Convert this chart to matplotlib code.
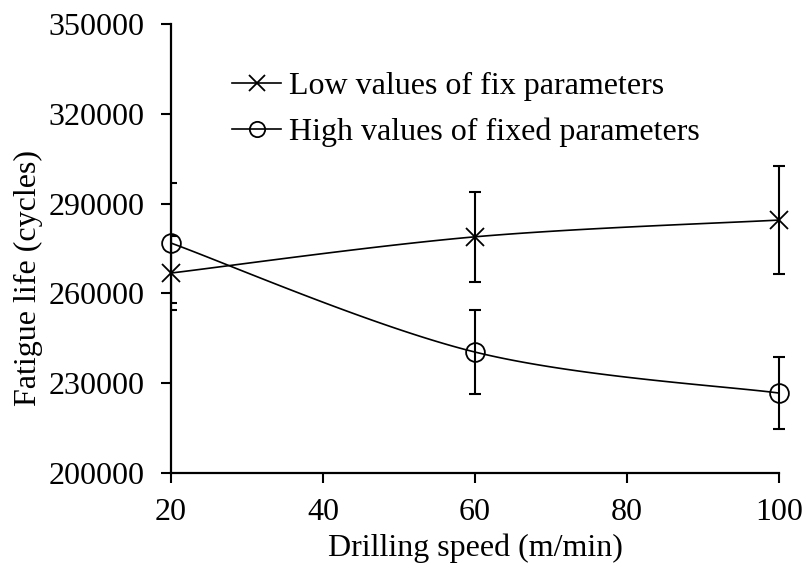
import numpy as np
import matplotlib
matplotlib.use("Agg")
import matplotlib.pyplot as plt
from matplotlib.lines import Line2D
from matplotlib.patches import Rectangle

plt.rcParams['font.family'] = ['Liberation Serif', 'DejaVu Serif']

speed = [20, 60, 100]
low_vals = [266800, 278900, 284500]
low_err = [12400, 15000, 18000]
high_vals = [276800, 240400, 226700]
high_err = [20000, 14000, 11900]
low_label = "Low values of fix parameters"
high_label = "High values of fixed parameters"
x_ticks = [20, 40, 60, 80, 100]
y_ticks = [200000, 230000, 260000, 290000, 320000, 350000]

FS = 23

fig = plt.figure(figsize=(8.06, 5.67), dpi=100)
ax = fig.add_axes([0.2122, 0.1658, 0.7543, 0.7919])
ax.set_xlim(20, 100)
ax.set_ylim(200000, 350000)

# clip region: left edge at the axis, open to the right
clip_rect = Rectangle((0, -0.2), 1.2, 1.4, transform=ax.transAxes,
                      facecolor='none', edgecolor='none')


def smooth(xs, ys, n=60):
    # Excel-like smoothed line (Catmull-Rom Bezier) in normalised coordinates
    x0, x1 = ax.get_xlim()
    y0, y1 = ax.get_ylim()
    w, h = 0.7543 * 806, 0.7919 * 567
    P = np.column_stack([(np.array(xs) - x0) / (x1 - x0) * w,
                         (np.array(ys) - y0) / (y1 - y0) * h])
    out = []
    for i in range(len(P) - 1):
        p0 = P[i - 1] if i > 0 else P[i]
        p1 = P[i]
        p2 = P[i + 1]
        p3 = P[i + 2] if i + 2 < len(P) else P[i + 1]
        c1 = p1 + (p2 - p0) / 6
        c2 = p2 - (p3 - p1) / 6
        t = np.linspace(0, 1, n)[:, None]
        seg = ((1 - t) ** 3) * p1 + 3 * ((1 - t) ** 2) * t * c1 + 3 * (1 - t) * t ** 2 * c2 + t ** 3 * p2
        out.append(seg if i == 0 else seg[1:])
    S = np.vstack(out)
    return S[:, 0] / w * (x1 - x0) + x0, S[:, 1] / h * (y1 - y0) + y0


for vals, errs, mk in [(low_vals, low_err, 'x'), (high_vals, high_err, 'o')]:
    sx, sy = smooth(speed, vals)
    ax.plot(sx, sy, color='black', lw=1.2, clip_on=False, zorder=3)
    eb = ax.errorbar(speed, vals, yerr=errs, fmt='none', ecolor='black',
                     elinewidth=1.5, capsize=4, capthick=1.5, zorder=2)
    for art in list(eb.lines[1]) + list(eb.lines[2]):
        art.set_clip_path(clip_rect)
    ax.plot(speed, vals, linestyle='none', marker=mk, markersize=13.5,
            markerfacecolor='none', markeredgecolor='black',
            markeredgewidth=1.3, clip_on=False, zorder=4)

handles = [
    Line2D([], [], color='black', lw=1.2, marker='x', markersize=12,
           markerfacecolor='none', markeredgecolor='black', markeredgewidth=1.3),
    Line2D([], [], color='black', lw=1.2, marker='o', markersize=11,
           markerfacecolor='none', markeredgecolor='black', markeredgewidth=1.3),
]
ax.legend(handles, [low_label, high_label], loc='upper left',
          bbox_to_anchor=(0.10, 0.893), frameon=False, fontsize=FS,
          handlelength=1.55, handletextpad=0.25, labelspacing=0.5,
          borderpad=0, borderaxespad=0)

ax.set_xticks(x_ticks)
ax.set_yticks(y_ticks)
ax.set_xticklabels([str(v) for v in x_ticks])
ax.set_yticklabels([str(v) for v in y_ticks])
ax.tick_params(axis='both', labelsize=FS, length=7, width=1.5, direction='out',
               colors='black')
ax.tick_params(axis='x', pad=11)
ax.tick_params(axis='y', pad=12)
for s in ['top', 'right']:
    ax.spines[s].set_visible(False)
for s in ['left', 'bottom']:
    ax.spines[s].set_linewidth(1.6)

ax.set_xlabel("Drilling speed (m/min)", fontsize=FS, labelpad=5)
ax.set_ylabel("Fatigue life (cycles)", fontsize=FS)
ax.yaxis.set_label_coords(-0.21, 0.434)

fig.savefig("out.png", dpi=100)
